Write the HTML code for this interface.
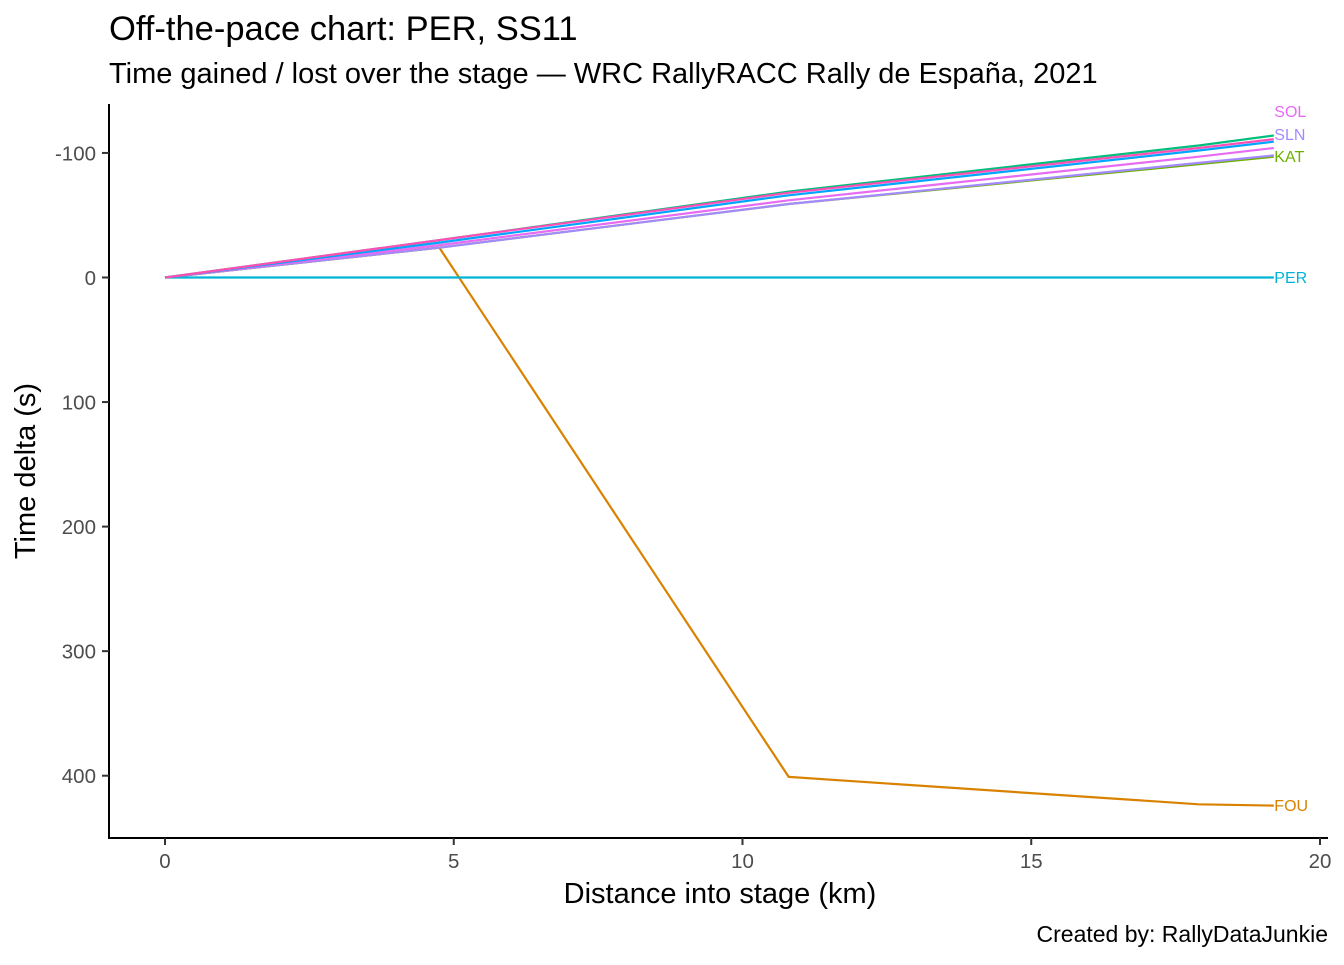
<!DOCTYPE html>
<html><head><meta charset="utf-8"><style>
body{margin:0;background:#fff;}
svg text{font-family:"Liberation Sans",Arial,sans-serif;}
</style></head><body>
<svg id="chart" width="1344" height="960" xmlns="http://www.w3.org/2000/svg">
<rect width="1344" height="960" fill="#fff"/>
<text x="109" y="40" font-size="34.5" fill="#000">Off-the-pace chart: PER, SS11</text>
<text x="109" y="83" font-size="29" fill="#000">Time gained / lost over the stage — WRC RallyRACC Rally de España, 2021</text>
<g id="plot"></g>
<line x1="109" y1="104" x2="109" y2="839" stroke="#000" stroke-width="2"/>
<line x1="108" y1="838" x2="1328" y2="838" stroke="#000" stroke-width="2"/>
<g id="axes"></g>
<text x="720" y="903" font-size="29" text-anchor="middle" fill="#000">Distance into stage (km)</text>
<text transform="translate(35,471) rotate(-90)" font-size="29" text-anchor="middle" fill="#000">Time delta (s)</text>
<text x="1328" y="942" font-size="23" text-anchor="end" fill="#000">Created by: RallyDataJunkie</text>
</svg>
<script>
const distances = [0, 4.75, 10.8, 17.9, 19.2];
const seriesNames = ["G1", "P1", "B1", "SOL", "SLN", "KAT", "FOU", "PER"];
const seriesColors = ["#00BF7D", "#FF4FB4", "#00A5FF", "#E76BF3", "#A58AFF", "#6BB100", "#D98200", "#00B4D8"];
const valG1 = [0, -30, -69, -106, -114];
const valP1 = [0, -30, -68, -104, -111];
const valB1 = [0, -28, -66, -102, -109];
const valSOL = [0, -26, -62, -97, -104];
const valSLN = [0, -24, -59, -92, -98];
const valKAT = [0, -24, -59, -91, -97];
const valFOU = [0, -24, 401, 423, 424];
const valPER = [0, 0, 0, 0, 0];
const seriesValues = [valG1, valP1, valB1, valSOL, valSLN, valKAT, valFOU, valPER];
const labeled = ["SOL", "SLN", "KAT", "PER", "FOU"];
const xTicks = [0, 5, 10, 15, 20];
const yTicks = [-100, 0, 100, 200, 300, 400];

const NS = "http://www.w3.org/2000/svg";
const xs = v => 165 + v * 57.75;
const ys = v => 277.5 + v * 1.2455;
const plot = document.getElementById("plot");
const axes = document.getElementById("axes");
function mk(tag, attrs, parent) { const e = document.createElementNS(NS, tag); for (const k in attrs) e.setAttribute(k, attrs[k]); parent.appendChild(e); return e; }

const order = [6, 7, 5, 4, 3, 2, 0, 1];
order.forEach(i => {
  const vals = seriesValues[i];
  const pts = distances.map((d, j) => xs(d).toFixed(1) + "," + ys(vals[j]).toFixed(1)).join(" ");
  const pl = mk("polyline", {points: pts, fill: "none", stroke: seriesColors[i], "stroke-width": 2.2, "stroke-linejoin": "round"}, plot);
  
  
});
seriesNames.forEach((n, i) => {
  if (!labeled.includes(n)) return;
  const vals = seriesValues[i];
  let yv = ys(vals[vals.length - 1]);
  if (n === "SOL") yv = ys(valG1[valG1.length - 1]) - 24;
  if (n === "SLN") yv = ys(valG1[valG1.length - 1]) - 1;
  const t = mk("text", {x: xs(distances[distances.length - 1]) + 0.5, y: yv + 5.5, "font-size": 16, fill: seriesColors[i]}, plot);
  t.textContent = n;
  
  
});
xTicks.forEach(v => {
  const l = mk("line", {x1: xs(v), x2: xs(v), y1: 838, y2: 845, stroke: "#333", "stroke-width": 2}, axes);
  
  
  const t = mk("text", {x: xs(v), y: 868, "font-size": 20.5, "text-anchor": "middle", fill: "#4d4d4d"}, axes);
  t.textContent = v;
  
  
});
yTicks.forEach(v => {
  const l = mk("line", {x1: 102, x2: 109, y1: ys(v), y2: ys(v), stroke: "#333", "stroke-width": 2}, axes);
  
  
  const t = mk("text", {x: 96, y: ys(v) + 7.5, "font-size": 20.5, "text-anchor": "end", fill: "#4d4d4d"}, axes);
  t.textContent = v;
  
  
});
</script>
</body></html>
